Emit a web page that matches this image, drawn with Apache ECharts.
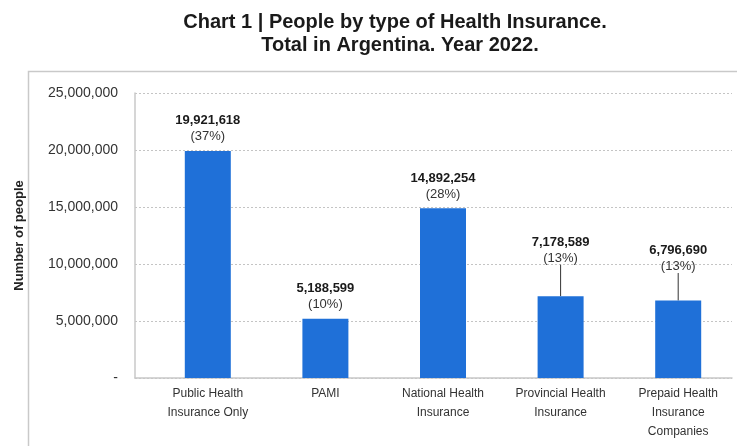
<!DOCTYPE html>
<html>
<head>
<meta charset="utf-8">
<title>People by type of Health Insurance</title>
<script src="https://cdn.jsdelivr.net/npm/echarts@6/dist/echarts.min.js"></script>
<style>
  html, body { margin: 0; padding: 0; background: #fff; }
  #chart { width: 737px; height: 446px; }
</style>
</head>
<body>
<div id="chart"></div>
<script>
const categories = [
  'Public Health\nInsurance Only',
  'PAMI',
  'National Health\nInsurance',
  'Provincial Health\nInsurance',
  'Prepaid Health\nInsurance\nCompanies'
]
const people = [19921618, 5188599, 14892254, 7178589, 6796690]
const shares = [37, 10, 28, 13, 13]
const yMin = 0
const yMax = 25000000
const yStep = 5000000
const titleLines = [
  'Chart 1 | People by type of Health Insurance.',
  'Total in Argentina. Year 2022.'
]

// how far some labels are lifted above their bar (px), with a leader line
const labelLift = [0, 0, 0, 24, 20]

const font = '"Liberation Sans", Arial, sans-serif'
const fmt = v => v.toLocaleString('en-US')

const chart = echarts.init(document.getElementById('chart'))

const titleStyle = {
  align: 'center',
  verticalAlign: 'middle',
  font: 'bold 20px ' + font,
  fill: '#1a1a1a'
}

const option = {
  backgroundColor: '#ffffff',
  animation: false,
  graphic: [
    {
      type: 'text',
      x: 395,
      y: 22,
      silent: true,
      style: { ...titleStyle, text: titleLines[0] }
    },
    {
      type: 'text',
      x: 400,
      y: 45,
      silent: true,
      style: { ...titleStyle, text: titleLines[1] }
    },
    {
      type: 'rect',
      shape: { x: 28.5, y: 71.5, width: 800, height: 500 },
      style: { fill: 'none', stroke: '#c9c9c9', lineWidth: 1.5 },
      silent: true
    }
  ],
  grid: [
    { left: 135, right: 5, top: 93, bottom: 68 },
    { left: 149, right: -9, top: 93, bottom: 68 }
  ],
  xAxis: [
    {
      gridIndex: 0,
      type: 'category',
      data: categories,
      axisLine: { show: true, lineStyle: { color: '#c8c8c8', width: 1.5 } },
      axisTick: { show: false },
      axisLabel: { show: false }
    },
    {
      gridIndex: 1,
      type: 'category',
      data: categories,
      axisLine: { show: false },
      axisTick: { show: false },
      axisLabel: {
        margin: 6,
        fontFamily: font,
        fontSize: 12,
        color: '#333',
        lineHeight: 19,
        interval: 0
      }
    }
  ],
  yAxis: [
    {
      gridIndex: 0,
      type: 'value',
      min: yMin,
      max: yMax,
      interval: yStep,
      name: 'Number of people',
      nameLocation: 'middle',
      nameGap: 109,
      nameTextStyle: {
        fontFamily: font,
        fontSize: 13,
        fontWeight: 'bold',
        color: '#222'
      },
      axisLine: { show: true, lineStyle: { color: '#c8c8c8', width: 1.5 } },
      axisTick: { show: false },
      axisLabel: {
        margin: 17,
        fontFamily: font,
        fontSize: 14,
        color: '#333',
        formatter: v => (v === 0 ? '-' : fmt(v))
      },
      splitLine: {
        show: true,
        lineStyle: { color: '#c4c4c4', type: [2, 2], width: 1 }
      }
    },
    {
      gridIndex: 1,
      type: 'value',
      min: yMin,
      max: yMax,
      interval: yStep,
      show: false,
      splitLine: { show: false }
    }
  ],
  series: [
    {
      name: 'People',
      type: 'bar',
      xAxisIndex: 1,
      yAxisIndex: 1,
      barWidth: 46,
      data: people.map((v, i) => ({
        value: v,
        labelLine: { show: labelLift[i] > 0 }
      })),
      itemStyle: { color: '#1f70d8' },
      label: {
        show: true,
        position: 'top',
        distance: 6,
        formatter: p => `{v|${fmt(p.value)}}\n{p|(${shares[p.dataIndex]}%)}`,
        rich: {
          v: {
            fontFamily: font,
            fontSize: 13,
            fontWeight: 'bold',
            color: '#1a1a1a',
            lineHeight: 16
          },
          p: {
            fontFamily: font,
            fontSize: 13,
            color: '#333',
            lineHeight: 16
          }
        }
      },
      labelLine: {
        lineStyle: { color: '#333', width: 1 }
      },
      labelLayout: p => ({ dy: -labelLift[p.dataIndex] })
    }
  ]
}

chart.setOption(option)
</script>
</body>
</html>
